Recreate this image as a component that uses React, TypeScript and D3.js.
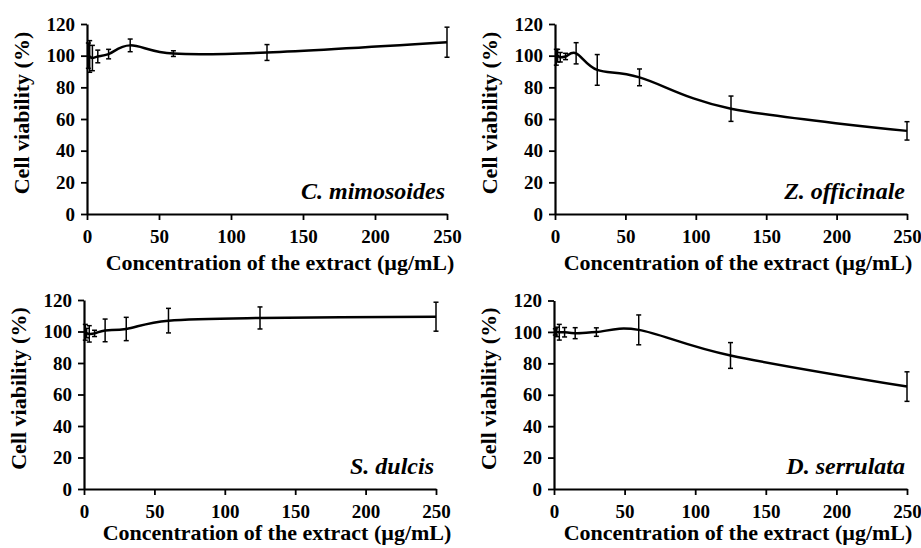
import { useEffect, useRef } from 'react'
import * as d3 from 'd3'

// concentrations tested (µg/mL)
const concentrations = [0.9375, 1.875, 3.75, 7.5, 15, 30, 60, 125, 250]
const xTicks = [0, 50, 100, 150, 200, 250]
const yTicks = [0, 20, 40, 60, 80, 100, 120]

const speciesNames = ['C. mimosoides', 'Z. officinale', 'S. dulcis', 'D. serrulata']

const mimosoidesMean = [100, 99.5, 98.5, 99.5, 101, 106.5, 101.3, 102, 108.5]
const mimosoidesErr = [8, 10, 8, 4, 3, 4, 1.8, 5, 9.5]

const officinaleMean = [99, 100, 99, 99.5, 101.5, 91, 86.3, 66.5, 52.5]
const officinaleErr = [5, 4, 3, 2, 6.7, 9.7, 5.3, 8, 5.8]

const dulcisMean = [99.5, 99, 98.5, 98.8, 100.7, 101.6, 106.9, 108.6, 109.4]
const dulcisErr = [5, 3, 5.2, 2, 7.2, 7.4, 7.8, 7, 9.2]

const serrulataMean = [100, 100, 99.8, 99.8, 99.2, 99.9, 101.3, 85, 65.2]
const serrulataErr = [2, 3, 5, 3, 3.5, 2.7, 9.5, 8.2, 9.4]

const seriesMeans = [mimosoidesMean, officinaleMean, dulcisMean, serrulataMean]
const seriesErrs = [mimosoidesErr, officinaleErr, dulcisErr, serrulataErr]

// plot areas of the four panels (pixels)
const layout = [
  { left: 87, right: 447, top: 24, bottom: 214, titleX: 280, titleY: 270 },
  { left: 555, right: 907, top: 24, bottom: 214, titleX: 738, titleY: 270 },
  { left: 84, right: 436, top: 300, bottom: 489, titleX: 277, titleY: 540 },
  { left: 554, right: 907, top: 300.5, bottom: 489, titleX: 738, titleY: 540 }
]

const font = '"Liberation Serif", "Times New Roman", serif'

export default function App() {
  const svgRef = useRef<SVGSVGElement>(null)

  useEffect(() => {
    if (!svgRef.current) return
    const svg = d3.select(svgRef.current)
    svg.selectAll('*').remove()

    layout.forEach((box, i) => {
      const means = seriesMeans[i]
      const errs = seriesErrs[i]

      const x = d3.scaleLinear().domain([0, 250]).range([box.left, box.right])
      const y = d3.scaleLinear().domain([0, 120]).range([box.bottom, box.top])

      const g = svg.append('g')

      // X axis
      const xAxis = g.append('g')
        .attr('transform', `translate(0,${box.bottom})`)
        .call(d3.axisBottom(x).tickValues(xTicks).tickSize(6).tickSizeOuter(0))
      xAxis.select('.domain').attr('stroke', '#000').attr('stroke-width', 2.2)
      xAxis.selectAll('.tick line').attr('stroke', '#000').attr('stroke-width', 1.8)
      xAxis.selectAll('.tick text')
        .attr('y', 29)
        .attr('dy', 0)
        .attr('fill', '#000')
        .style('font-family', font)
        .style('font-size', '19px')
        .style('font-weight', 'bold')

      // Y axis
      const yAxis = g.append('g')
        .attr('transform', `translate(${box.left},0)`)
        .call(d3.axisLeft(y).tickValues(yTicks).tickSize(6).tickSizeOuter(0).tickPadding(6))
      yAxis.select('.domain').attr('stroke', '#000').attr('stroke-width', 2.2)
      yAxis.selectAll('.tick line').attr('stroke', '#000').attr('stroke-width', 1.8)
      yAxis.selectAll('.tick text')
        .attr('fill', '#000')
        .style('font-family', font)
        .style('font-size', '19px')
        .style('font-weight', 'bold')

      // Error bars
      const bars = g.append('g')
        .attr('stroke', '#000')
        .attr('stroke-width', 1.5)
        .selectAll('g')
        .data(means.map((m, j) => ({ c: concentrations[j], m, e: errs[j] })))
        .enter().append('g')

      bars.append('line')
        .attr('x1', d => x(d.c))
        .attr('x2', d => x(d.c))
        .attr('y1', d => y(d.m + d.e))
        .attr('y2', d => y(d.m - d.e))
      bars.append('line')
        .attr('x1', d => x(d.c) - 2.5)
        .attr('x2', d => x(d.c) + 2.5)
        .attr('y1', d => y(d.m + d.e))
        .attr('y2', d => y(d.m + d.e))
      bars.append('line')
        .attr('x1', d => x(d.c) - 2.5)
        .attr('x2', d => x(d.c) + 2.5)
        .attr('y1', d => y(d.m - d.e))
        .attr('y2', d => y(d.m - d.e))

      // Smoothed line
      const line = d3.line<number>()
        .x((_, j) => x(concentrations[j]))
        .y(d => y(d))
        .curve(d3.curveCardinal.tension(0))

      g.append('path')
        .datum(means)
        .attr('d', line)
        .attr('fill', 'none')
        .attr('stroke', '#000')
        .attr('stroke-width', 2.5)

      // Species label
      g.append('text')
        .attr('x', box.right - 2)
        .attr('y', box.bottom - 15)
        .attr('text-anchor', 'end')
        .style('font-family', font)
        .style('font-size', '24px')
        .style('font-weight', 'bold')
        .style('font-style', 'italic')
        .text(speciesNames[i])

      // Axis titles
      g.append('text')
        .attr('x', box.titleX)
        .attr('y', box.titleY)
        .attr('text-anchor', 'middle')
        .style('font-family', font)
        .style('font-size', '22px')
        .style('font-weight', 'bold')
        .text('Concentration of the extract (µg/mL)')

      g.append('text')
        .attr('transform', `translate(${box.left - 58},${(box.top + box.bottom) / 2 - 6}) rotate(-90)`)
        .attr('text-anchor', 'middle')
        .style('font-family', font)
        .style('font-size', '22px')
        .style('font-weight', 'bold')
        .text('Cell viability (%)')
    })
  }, [])

  return (
    <div style={{ position: 'absolute', left: 0, top: 0, width: 921, height: 548, background: '#fff' }}>
      <svg ref={svgRef} width={921} height={548}></svg>
    </div>
  )
}
